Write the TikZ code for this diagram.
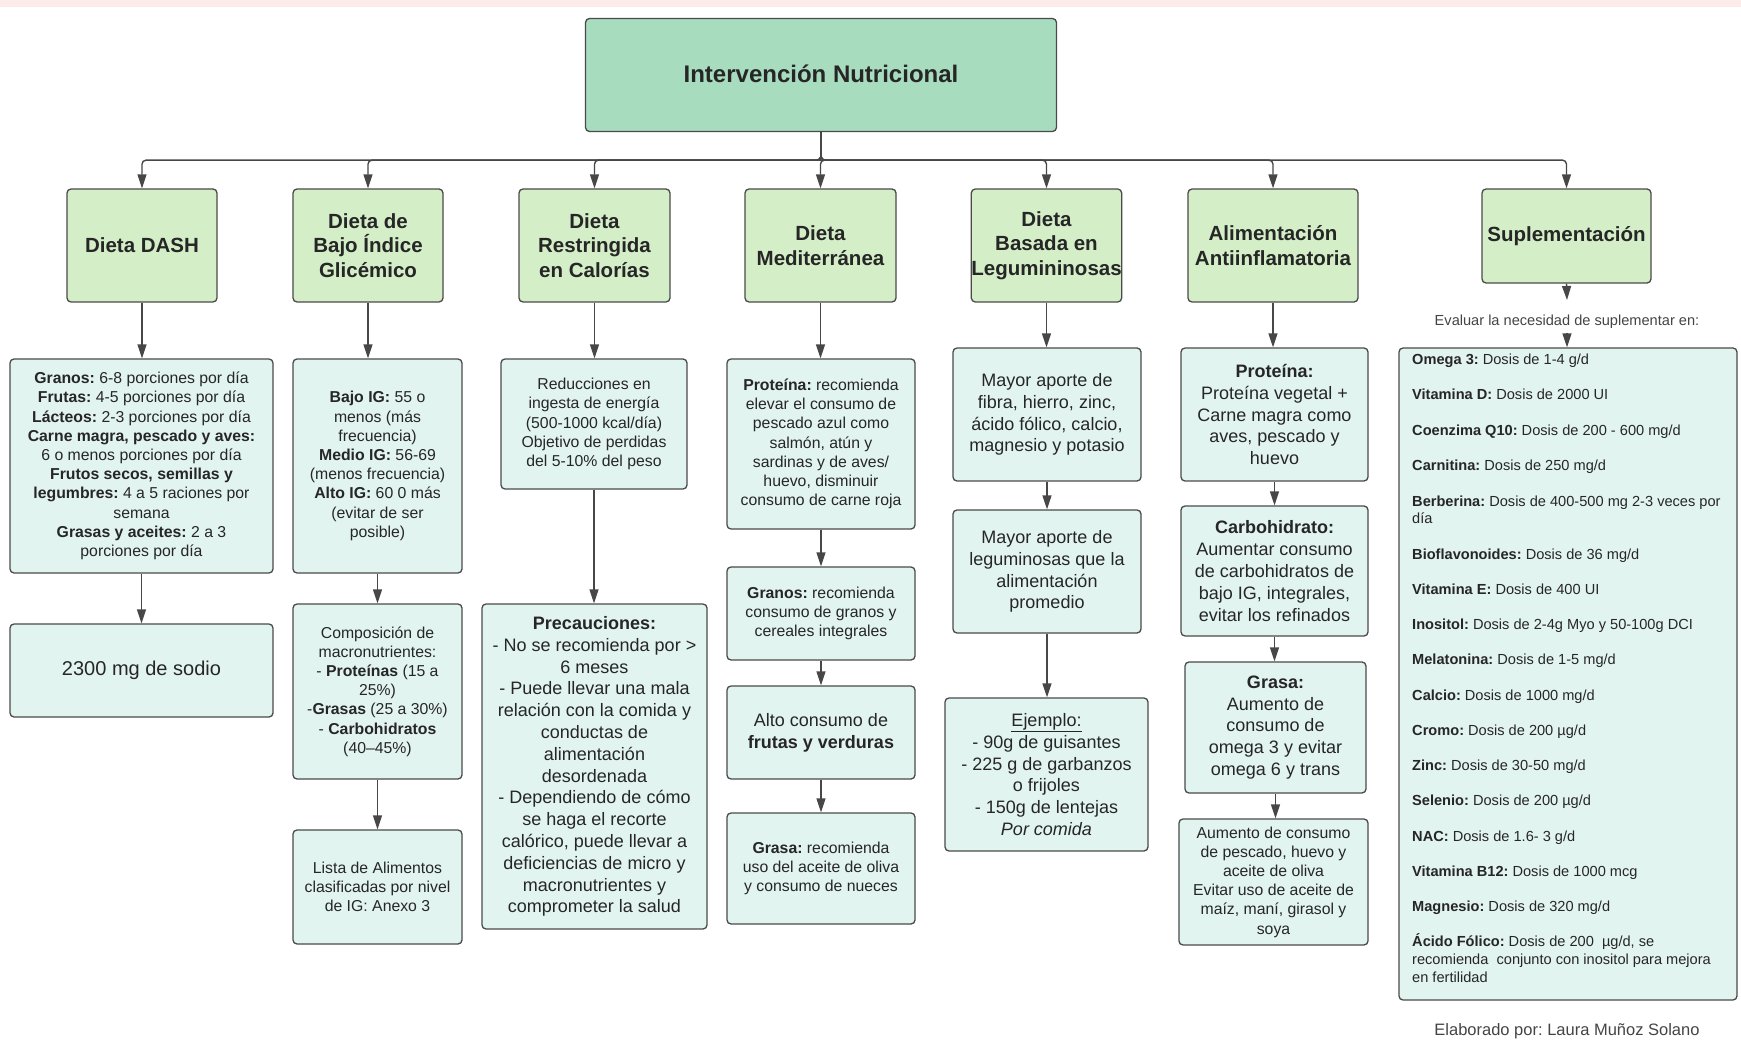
\documentclass[tikz,border=0pt]{standalone}
\usepackage{fontspec}
\setmainfont{Liberation Sans}
\usetikzlibrary{arrows.meta}
\definecolor{fillT}{HTML}{A8DCBF}
\definecolor{fillB}{HTML}{D4EFC8}
\definecolor{fillC}{HTML}{E2F4F0}
\definecolor{bordercol}{HTML}{4A4A4A}
\definecolor{linecol}{HTML}{474747}
\definecolor{textcol}{HTML}{262626}
\definecolor{graytext}{HTML}{444444}
\definecolor{pinkband}{HTML}{FCEBE8}
\newcommand\fsNorm{\fontsize{15.8}{19.2}\selectfont}
\newcommand\fsBig{\fontsize{18}{21.8}\selectfont}
\newcommand\fsHead{\fontsize{20.5}{24.5}\selectfont}
\newcommand\fsSmall{\fontsize{14.6}{17.8}\selectfont}
\newcommand\fsTitle{\fontsize{24}{29}\selectfont}
\frenchspacing
\begin{document}
\begin{tikzpicture}[x=1pt,y=-1pt,
  box/.style={draw=bordercol, line width=1.3pt, rounded corners=4pt, inner sep=0pt, align=center, text=textcol},
  titlebox/.style={box, fill=fillT, font=\fsTitle\bfseries},
  lvtwo/.style={box, fill=fillB, font=\fsHead\bfseries, minimum height=113pt},
  lvthree/.style={box, fill=fillC, font=\fsNorm},
  lvbig/.style={box, fill=fillC, font=\fsBig},
  arr/.style={draw=linecol, line width=1.4pt, -{Triangle[length=14pt,width=9pt]}},
  sitem/.style={anchor=base west, inner sep=0pt, font=\fsSmall, text=textcol},
  note/.style={anchor=base, inner sep=0pt, text=graytext}
]
\useasboundingbox (0,0) rectangle (1741,1048);
\fill[pinkband] (0,0) rectangle (1741,7);

% Title
\node[titlebox, minimum width=471pt, minimum height=113pt] (T) at (821,75) {\raisebox{3pt}{Intervención Nutricional}};

% Level 2
\node[lvtwo, minimum width=150pt] (dash) at (142,245.5) {Dieta DASH};
\node[lvtwo, minimum width=150pt] (bajo) at (368,245.5) {Dieta de\\Bajo Índice\\Glicémico};
\node[lvtwo, minimum width=151pt] (restr) at (594.5,245.5) {Dieta\\Restringida\\en Calorías};
\node[lvtwo, minimum width=151pt] (medit) at (820.5,245.5) {Dieta\\Mediterránea};
\node[lvtwo, minimum width=149pt] (legum) at (1046.5,245.5) {Dieta\\Basada en\\Legumininosas};
\node[lvtwo, minimum width=170pt] (antii) at (1273,245.5) {Alimentación\\Antiinflamatoria};
\node[lvtwo, minimum width=169pt, minimum height=94pt] (supl) at (1566.5,236) {Suplementación};

\foreach \n in {dash,bajo,restr,medit,legum,antii,supl}
  \draw[arr, rounded corners=4pt] (T.south) -- ++(0,28) -| (\n.north);

% Column 1
\node[lvthree, minimum width=263pt, minimum height=214pt] (A1) at (141.5,466) {%
\textbf{Granos:} 6-8 porciones por día\\
\textbf{Frutas:} 4-5 porciones por día\\
\textbf{Lácteos:} 2-3 porciones por día\\
\textbf{Carne magra, pescado y aves:}\\
6 o menos porciones por día\\
\textbf{Frutos secos, semillas y}\\
\textbf{legumbres:} 4 a 5 raciones por\\
semana\\
\textbf{Grasas y aceites:} 2 a 3\\
porciones por día};
\node[box, fill=fillC, font=\fontsize{20}{24}\selectfont, minimum width=263pt, minimum height=93pt] (A2) at (141.5,670.5) {2300 mg de sodio};

% Column 2
\node[lvthree, minimum width=169pt, minimum height=214pt] (B1) at (377.5,466) {%
\textbf{Bajo IG:} 55 o\\
menos (más\\
frecuencia)\\
\textbf{Medio IG:} 56-69\\
(menos frecuencia)\\
\textbf{Alto IG:} 60 0 más\\
(evitar de ser\\
posible)};
\node[lvthree, minimum width=169pt, minimum height=175pt] (B2) at (377.5,691.5) {%
Composición de\\
macronutrientes:\\
- \textbf{Proteínas} (15 a\\
25\%)\\
-\textbf{Grasas} (25 a 30\%)\\
- \textbf{Carbohidratos}\\
(40–45\%)};
\node[lvthree, minimum width=169pt, minimum height=114pt] (B3) at (377.5,887) {%
Lista de Alimentos\\
clasificadas por nivel\\
de IG: Anexo 3};

% Column 3
\node[lvthree, minimum width=186pt, minimum height=130pt] (C1) at (594,424) {%
Reducciones en\\
ingesta de energía\\
(500-1000 kcal/día)\\
Objetivo de perdidas\\
del 5-10\% del peso};
\node[lvbig, minimum width=225pt, minimum height=325pt] (C2) at (594.5,766.5) {%
\textbf{Precauciones:}\\
- No se recomienda por >\\
6 meses\\
- Puede llevar una mala\\
relación con la comida y\\
conductas de\\
alimentación\\
desordenada\\
- Dependiendo de cómo\\
se haga el recorte\\
calórico, puede llevar a\\
deficiencias de micro y\\
macronutrientes y\\
comprometer la salud};

% Column 4
\node[lvthree, minimum width=188pt, minimum height=170pt] (D1) at (821,444) {%
\textbf{Proteína:} recomienda\\
elevar el consumo de\\
pescado azul como\\
salmón, atún y\\
sardinas y de aves/\\
huevo, disminuir\\
consumo de carne roja};
\node[lvthree, minimum width=188pt, minimum height=93pt] (D2) at (821,613.5) {%
\textbf{Granos:} recomienda\\
consumo de granos y\\
cereales integrales};
\node[lvbig, minimum width=188pt, minimum height=93pt] (D3) at (821,732.5) {%
Alto consumo de\\
\textbf{frutas y verduras}};
\node[lvthree, minimum width=188pt, minimum height=111pt] (D4) at (821,868.5) {%
\textbf{Grasa:} recomienda\\
uso del aceite de oliva\\
y consumo de nueces};

% Column 5
\node[lvbig, minimum width=188pt, minimum height=133pt] (E1) at (1047,414.5) {%
Mayor aporte de\\
fibra, hierro, zinc,\\
ácido fólico, calcio,\\
magnesio y potasio};
\node[lvbig, minimum width=188pt, minimum height=123pt] (E2) at (1047,571.5) {%
Mayor aporte de\\
leguminosas que la\\
alimentación\\
promedio};
\node[lvbig, minimum width=203pt, minimum height=153pt] (E3) at (1046.5,774.5) {%
\underline{Ejemplo:}\\
- 90g de guisantes\\
- 225 g de garbanzos\\
o frijoles\\
- 150g de lentejas\\
\textit{Por comida}};

% Column 6
\node[lvbig, minimum width=187pt, minimum height=133pt] (F1) at (1274.5,414.5) {%
\textbf{Proteína:}\\
Proteína vegetal +\\
Carne magra como\\
aves, pescado y\\
huevo};
\node[lvbig, minimum width=187pt, minimum height=130pt] (F2) at (1274.5,571) {%
\textbf{Carbohidrato:}\\
Aumentar consumo\\
de carbohidratos de\\
bajo IG, integrales,\\
evitar los refinados};
\node[lvbig, minimum width=181pt, minimum height=131pt] (F3) at (1275.5,727.5) {%
\textbf{Grasa:}\\
Aumento de\\
consumo de\\
omega 3 y evitar\\
omega 6 y trans};
\node[lvthree, minimum width=189pt, minimum height=126pt] (F4) at (1273.5,882) {%
Aumento de consumo\\
de pescado, huevo y\\
aceite de oliva\\
Evitar uso de aceite de\\
maíz, maní, girasol y\\
soya};

% Column 7
\coordinate (ev1) at (1567,300);
\node[note, font=\fsSmall] (evtext) at (1567,325.5) {Evaluar la necesidad de suplementar en:};
\coordinate (ev2) at (1567,333);
\node[box, fill=fillC, minimum width=338pt, minimum height=652pt] (S) at (1568,674) {};
\node[sitem] (s0) at (1412,365) {\textbf{Omega 3:} Dosis de 1-4 g/d};
\node[sitem] (s1) at (1412,400) {\textbf{Vitamina D:} Dosis de 2000 UI};
\node[sitem] (s2) at (1412,435.5) {\textbf{Coenzima Q10:} Dosis de 200 - 600 mg/d};
\node[sitem] (s3) at (1412,471) {\textbf{Carnitina:} Dosis de 250 mg/d};
\node[sitem] (s4) at (1412,506) {\textbf{Berberina:} Dosis de 400-500 mg 2-3 veces por};
\node[sitem] (s4b) at (1412,523.8) {día};
\node[sitem] (s5) at (1412,559) {\textbf{Bioflavonoides:} Dosis de 36 mg/d};
\node[sitem] (s6) at (1412,594) {\textbf{Vitamina E:} Dosis de 400 UI};
\node[sitem] (s7) at (1412,629.5) {\textbf{Inositol:} Dosis de 2-4g Myo y 50-100g DCI};
\node[sitem] (s8) at (1412,664.5) {\textbf{Melatonina:} Dosis de 1-5 mg/d};
\node[sitem] (s9) at (1412,700) {\textbf{Calcio:} Dosis de 1000 mg/d};
\node[sitem] (s10) at (1412,735) {\textbf{Cromo:} Dosis de 200 µg/d};
\node[sitem] (s11) at (1412,770) {\textbf{Zinc:} Dosis de 30-50 mg/d};
\node[sitem] (s12) at (1412,805.5) {\textbf{Selenio:} Dosis de 200 µg/d};
\node[sitem] (s13) at (1412,841) {\textbf{NAC:} Dosis de 1.6- 3 g/d};
\node[sitem] (s14) at (1412,876) {\textbf{Vitamina B12:} Dosis de 1000 mcg};
\node[sitem] (s15) at (1412,911) {\textbf{Magnesio:} Dosis de 320 mg/d};
\node[sitem] (s16) at (1412,946.5) {\textbf{Ácido Fólico:} Dosis de 200\ \ µg/d, se};
\node[sitem] (s16b) at (1412,964.3) {recomienda\ \ conjunto con inositol para mejora};
\node[sitem] (s16c) at (1412,982) {en fertilidad};
\node[note, font=\fontsize{16.5}{20}\selectfont] (elab) at (1567,1035.5) {Elaborado por: Laura Muñoz Solano};

% Column connectors
\draw[arr] (dash.south) -- (dash.south |- A1.north);
\draw[arr] (A1.south) -- (A1.south |- A2.north);
\draw[arr] (bajo.south) -- (bajo.south |- B1.north);
\draw[arr] (B1.south) -- (B1.south |- B2.north);
\draw[arr] (B2.south) -- (B2.south |- B3.north);
\draw[arr] (restr.south) -- (restr.south |- C1.north);
\draw[arr] (C1.south) -- (C1.south |- C2.north);
\draw[arr] (medit.south) -- (medit.south |- D1.north);
\draw[arr] (D1.south) -- (D1.south |- D2.north);
\draw[arr] (D2.south) -- (D2.south |- D3.north);
\draw[arr] (D3.south) -- (D3.south |- D4.north);
\draw[arr] (legum.south) -- (legum.south |- E1.north);
\draw[arr] (E1.south) -- (E1.south |- E2.north);
\draw[arr] (E2.south) -- (E2.south |- E3.north);
\draw[arr] (antii.south) -- (antii.south |- F1.north);
\draw[arr] (F1.south) -- (F1.south |- F2.north);
\draw[arr] (F2.south) -- (F2.south |- F3.north);
\draw[arr] (F3.south) -- (F3.south |- F4.north);
\draw[arr] (supl.south) -- (ev1);
\draw[arr] (ev2) -- (ev2 |- S.north);
\end{tikzpicture}
\end{document}
